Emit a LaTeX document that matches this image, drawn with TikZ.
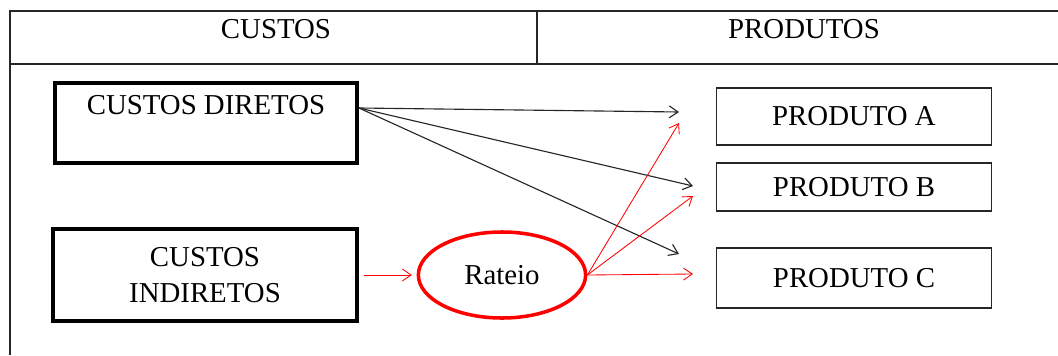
\documentclass[tikz,border=0pt]{standalone}
\usepackage{fontspec}
\setmainfont{Liberation Serif}
\usetikzlibrary{positioning, calc, shapes.geometric, arrows.meta}

\begin{document}
\begin{tikzpicture}[
    x=0.025cm, y=-0.025cm,
    txt/.style     = {inner sep=0pt, align=center,
                      font=\fontsize{20.5}{26}\selectfont},
    thickbox/.style = {rectangle, draw=black, line width=2.6pt},
    prodbox/.style  = {rectangle, draw=black!85, line width=1pt,
                       minimum width=6.875cm, inner sep=0pt,
                       font=\fontsize{20.5}{26}\selectfont},
    rateiobox/.style = {ellipse, draw=red, line width=2.5pt,
                        minimum width=4.18cm, minimum height=2.15cm,
                        inner sep=0pt, font=\fontsize{20.5}{26}\selectfont},
    frame/.style   = {line width=1.1pt, draw=black!85},
    arr/.style     = {line width=0.8pt, draw=black!85,
                      -{Straight Barb[length=2.2mm, width=3mm]}},
    redarr/.style  = {line width=0.6pt, draw=red,
                      -{Straight Barb[length=2.2mm, width=3mm]}},
]

\useasboundingbox (0,0) rectangle (1058,355);

%% ---- Layout coordinates ----
\def\yTop{11}
\def\yHead{64}
\def\xDiv{537}

%% ==================================================================
%% TABLE FRAME
%% ==================================================================
\draw[frame] (1058,\yTop) -- (10,\yTop) -- (10,355);
\draw[frame] (10,\yHead) -- (1058,\yHead);
\draw[frame] (\xDiv,\yTop) -- (\xDiv,\yHead);

\node[txt] (hcustos) at (276,29) {CUSTOS};
\node[txt] (hprod) at (804,29) {PRODUTOS};

%% ==================================================================
%% NODES
%% ==================================================================
\node[thickbox, minimum width=7.55cm, minimum height=2.0cm] (custdir)
    at (206,123) {};
\node[txt] (custdirlbl) at (206,105) {CUSTOS DIRETOS};

\node[thickbox, minimum width=7.6cm, minimum height=2.3cm, txt,
      inner sep=0pt] (custind) at (205,275) {CUSTOS\\INDIRETOS};

\node[rateiobox] (rateio) at (502,275) {Rateio};

\node[prodbox, minimum height=1.425cm] (proda) at (854,116.5) {PRODUTO A};
\node[prodbox, minimum height=1.2cm] (prodb) at (854,187) {PRODUTO B};
\node[prodbox, minimum height=1.5cm] (prodc) at (854,278) {PRODUTO C};

%% ---- free arrow ends ----
\coordinate (dirout) at ([yshift=0.375cm]custdir.east);
\coordinate (tipa) at (679,112);
\coordinate (tipb) at (693,186);
\coordinate (tipc) at (679,254);
\coordinate (rtipa) at (679,123);
\coordinate (rtipb) at (693,196);
\coordinate (rtipc) at (693,274);

%% ==================================================================
%% CONNECTIONS
%% ==================================================================

%% Direct costs -> products
\draw[arr] (dirout) -- (tipa);
\draw[arr] (dirout) -- (tipb);
\draw[arr] (dirout) -- (tipc);

%% Indirect costs -> Rateio -> products
\draw[redarr, shorten <=0.12cm, shorten >=0.12cm] (custind.east) -- (rateio.west);
\draw[redarr] (rateio.east) -- (rtipa);
\draw[redarr] (rateio.east) -- (rtipb);
\draw[redarr] (rateio.east) -- (rtipc);

\end{tikzpicture}
\end{document}
